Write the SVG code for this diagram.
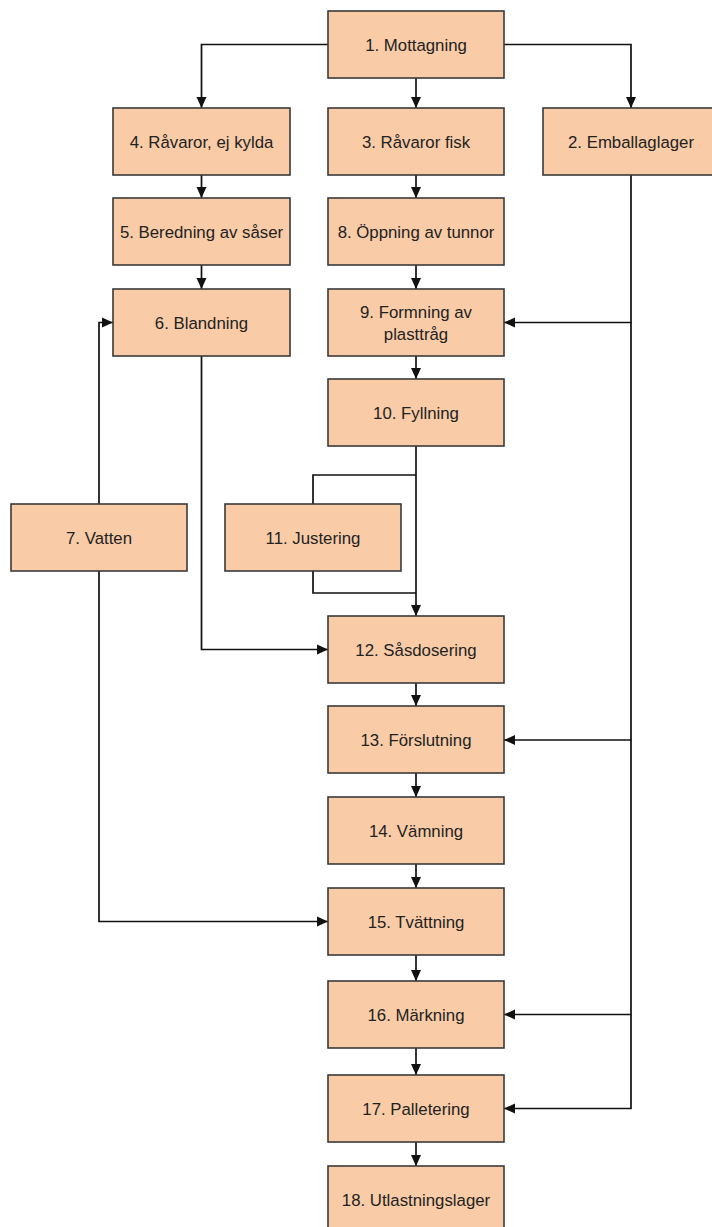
<svg xmlns="http://www.w3.org/2000/svg" width="712" height="1227" viewBox="0 0 712 1227">
<style>
.box{fill:#F9CCA7;stroke:#3a3a3a;stroke-width:1.6}
.lbl{font-family:"Liberation Sans",Arial,sans-serif;font-size:16.8px;fill:#222;text-anchor:middle}
.con{fill:none;stroke:#111;stroke-width:1.7}
.arr{marker-end:url(#ah)}
</style>
<defs>
<marker id="ah" markerUnits="userSpaceOnUse" markerWidth="11" markerHeight="11" refX="11" refY="5.5" orient="auto">
<path d="M0,0.5 L11,5.5 L0,10.5 z" fill="#111"/>
</marker>
</defs>
<rect width="712" height="1227" fill="#fff"/>
<g id="connectors">
<path class="con arr" d="M328,44.5 H201.5 V108"/>
<path class="con arr" d="M416,78 V108"/>
<path class="con arr" d="M504,44.5 H631 V108"/>
<path class="con arr" d="M201.5,175 V198"/>
<path class="con arr" d="M201.5,265 V289"/>
<path class="con arr" d="M416,175 V198"/>
<path class="con arr" d="M416,265 V289"/>
<path class="con arr" d="M631,175 V322.5 H504"/>
<path class="con arr" d="M631,322.5 V740 H504"/>
<path class="con arr" d="M631,740 V1014.5 H504"/>
<path class="con arr" d="M631,1014.5 V1108.5 H504"/>
<path class="con arr" d="M416,356 V379"/>
<path class="con arr" d="M416,446 V616"/>
<path class="con" d="M416,475 H313 V504"/>
<path class="con" d="M313,571 V593 H416"/>
<path class="con arr" d="M201.5,356 V649.5 H328"/>
<path class="con arr" d="M99,504 V322.5 H113"/>
<path class="con arr" d="M99,571 V921.5 H328"/>
<path class="con arr" d="M416,683 V706"/>
<path class="con arr" d="M416,773 V797"/>
<path class="con arr" d="M416,864 V888"/>
<path class="con arr" d="M416,955 V981"/>
<path class="con arr" d="M416,1048 V1075"/>
<path class="con arr" d="M416,1142 V1166"/>
</g>
<g id="n1"><rect class="box" x="328" y="11" width="176" height="67"/><text class="lbl" x="416" y="50.5">1. Mottagning</text></g>
<g id="n4"><rect class="box" x="113" y="108" width="177" height="67"/><text class="lbl" x="201.5" y="147.5">4. Råvaror, ej kylda</text></g>
<g id="n3"><rect class="box" x="328" y="108" width="176" height="67"/><text class="lbl" x="416" y="147.5">3. Råvaror fisk</text></g>
<g id="n2"><rect class="box" x="543" y="108" width="176" height="67"/><text class="lbl" x="631" y="147.5">2. Emballaglager</text></g>
<g id="n5"><rect class="box" x="113" y="198" width="177" height="67"/><text class="lbl" x="201.5" y="237.5">5. Beredning av såser</text></g>
<g id="n8"><rect class="box" x="328" y="198" width="176" height="67"/><text class="lbl" x="416" y="237.5">8. Öppning av tunnor</text></g>
<g id="n6"><rect class="box" x="113" y="289" width="177" height="67"/><text class="lbl" x="201.5" y="328.5">6. Blandning</text></g>
<g id="n9"><rect class="box" x="328" y="289" width="176" height="67"/><text class="lbl" x="416" y="318">9. Formning av</text><text class="lbl" x="416" y="339.5">plasttråg</text></g>
<g id="n10"><rect class="box" x="328" y="379" width="176" height="67"/><text class="lbl" x="416" y="418.5">10. Fyllning</text></g>
<g id="n7"><rect class="box" x="11" y="504" width="176" height="67"/><text class="lbl" x="99" y="543.5">7. Vatten</text></g>
<g id="n11"><rect class="box" x="225" y="504" width="176" height="67"/><text class="lbl" x="313" y="543.5">11. Justering</text></g>
<g id="n12"><rect class="box" x="328" y="616" width="176" height="67"/><text class="lbl" x="416" y="655.5">12. Såsdosering</text></g>
<g id="n13"><rect class="box" x="328" y="706" width="176" height="67"/><text class="lbl" x="416" y="745.5">13. Förslutning</text></g>
<g id="n14"><rect class="box" x="328" y="797" width="176" height="67"/><text class="lbl" x="416" y="836.5">14. Vämning</text></g>
<g id="n15"><rect class="box" x="328" y="888" width="176" height="67"/><text class="lbl" x="416" y="927.5">15. Tvättning</text></g>
<g id="n16"><rect class="box" x="328" y="981" width="176" height="67"/><text class="lbl" x="416" y="1020.5">16. Märkning</text></g>
<g id="n17"><rect class="box" x="328" y="1075" width="176" height="67"/><text class="lbl" x="416" y="1114.5">17. Palletering</text></g>
<g id="n18"><rect class="box" x="328" y="1166" width="176" height="67"/><text class="lbl" x="416" y="1205.5">18. Utlastningslager</text></g>
</svg>
